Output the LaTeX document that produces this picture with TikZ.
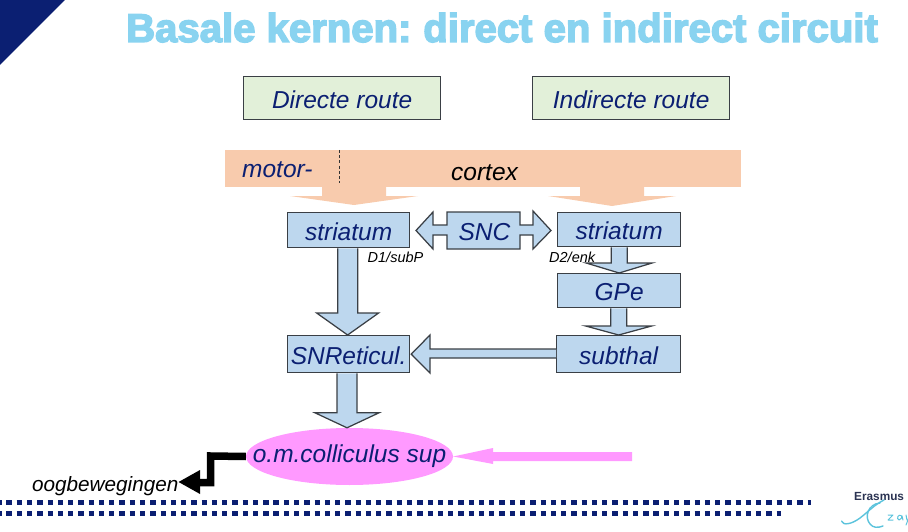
\documentclass[tikz,border=0pt]{standalone}
\usepackage{fontspec}
\setmainfont{Liberation Sans}
\newfontfamily\titlefont[FakeBold=3.6]{Liberation Sans Bold}
\usetikzlibrary{calc,shapes.geometric}
\definecolor{navy}{HTML}{0B1F72}
\definecolor{sky}{HTML}{89D3F0}
\definecolor{peach}{HTML}{F8CBAD}
\definecolor{boxblue}{HTML}{BDD7EE}
\definecolor{boxgreen}{HTML}{E2F0D9}
\definecolor{pinkfill}{HTML}{FF99FF}
\definecolor{edge}{HTML}{3A3F45}
\definecolor{logoink}{HTML}{2B3352}
\definecolor{logoswoosh}{HTML}{5CC3DC}
\tikzset{
  labelbox/.style={draw=edge,line width=1.25pt,fill=#1,text=navy,font=\itshape\fontsize{24.5}{24.5}\selectfont,inner sep=0pt,anchor=north west,text height=20pt,text depth=0pt},
  routebox/.style={labelbox=boxgreen},
  areabox/.style={labelbox=boxblue},
  blockarrow/.style={draw=edge,line width=1.25pt,fill=boxblue,line join=miter},
  peacharrow/.style={fill=peach},
  smalltext/.style={font=\itshape\fontsize{14.5}{14.5}\selectfont,text=black,inner sep=0pt},
  dotrow/.style={navy,line width=5pt,dash pattern=on 5.3pt off 4.97pt},
  swoosh/.style={logoswoosh,line width=1.4pt,line cap=round,line join=round},
}
% down arrow: #1 style, #2 start, #3 tip, #4 shaft half width, #5 head half width, #6 head length (all in px)
\newcommand{\downblock}[6]{%
  \path[#1] let \p1=(#2), \p2=(#3) in
    (\x2-#4,\y1) -- (\x2-#4,\y2+#6) -- (\x2-#5,\y2+#6) -- (\x2,\y2) --
    (\x2+#5,\y2+#6) -- (\x2+#4,\y2+#6) -- (\x2+#4,\y1);}
\begin{document}
\begin{tikzpicture}[x=1pt,y=-1pt]
\useasboundingbox (0,0) rectangle (908,532);
\clip (0,0) rectangle (908,532);
\fill[navy] (0,0) -- (65,0) -- (0,65) -- cycle;
\node[anchor=base west,inner sep=0pt,text=sky] (title) at (126,42)
  {\titlefont\fontsize{40.1}{40.1}\selectfont Basale kernen:\kern-3pt{} direct en indirect circuit};
% route boxes
\node[routebox,minimum width=197pt,minimum height=43pt] (dir) at (243,76) {Directe route};
\node[routebox,minimum width=197pt,minimum height=43pt] (ind) at (532,76) {Indirecte route};
% cortex
\node[fill=peach,minimum width=516pt,minimum height=37pt,inner sep=0pt,anchor=north west] (cortex) at (225,150) {};
\coordinate (cortexL) at (354,186);
\coordinate (cortexR) at (612,186);
\coordinate (tipL) at (354,205);
\coordinate (tipR) at (612,206);
\downblock{peacharrow}{cortexL}{tipL}{32}{64}{9}
\downblock{peacharrow}{cortexR}{tipR}{32}{64}{10}
\node[anchor=base west,inner sep=0pt,text=navy,font=\itshape\fontsize{24.5}{24.5}\selectfont] (motor) at (242,178) {motor-};
\node[anchor=base west,inner sep=0pt,text=black,font=\itshape\fontsize{24.5}{24.5}\selectfont] (cort) at (451,180) {cortex};
\coordinate (dashtop) at (339.5,150);
\coordinate (dashbot) at (339.5,183);
\draw[black!80,line width=1pt,dash pattern=on 3pt off 2.2pt] (dashtop) -- (dashbot);
% areas
\node[areabox,minimum width=122pt,minimum height=35pt] (strL) at (287,212) {striatum};
\node[areabox,minimum width=123pt,minimum height=34pt] (strR) at (557,212) {striatum};
\node[areabox,minimum width=123pt,minimum height=34pt] (gpe) at (557,273) {GPe};
\node[areabox,minimum width=124pt,minimum height=37pt] (sub) at (556,335) {subthal};
\node[areabox,minimum width=122pt,minimum height=37pt] (snr) at (287,335) {SNReticul.};
\node[ellipse,fill=pinkfill,minimum width=207pt,minimum height=57pt,inner sep=0pt,text=navy,font=\itshape\fontsize{24.5}{24.5}\selectfont] (oc) at (349.5,456.5) {\makebox[0pt][c]{o.m.colliculus sup}};
% SNC double arrow
\path[blockarrow] (416,230.5) -- (433,212) -- (433,225) -- (447,225) -- (447,212) -- (520,212)
  -- (520,225) -- (533,225) -- (533,211) -- (551,230.5) -- (533,249) -- (533,235) -- (520,235)
  -- (520,249) -- (447,249) -- (447,235) -- (433,235) -- (433,249) -- cycle;
\node[text=navy,font=\itshape\fontsize{24.5}{24.5}\selectfont,inner sep=0pt] (snc) at (484.5,232) {SNC};
% vertical arrows
\downblock{blockarrow}{strL.south}{$(snr.north)+(-1,0)$}{10}{31}{22}
\downblock{blockarrow}{strR.south}{gpe.north}{8}{33}{10}
\downblock{blockarrow}{gpe.south}{sub.north}{8}{33}{9}
\downblock{blockarrow}{snr.south}{$(oc.north)+(-2.5,0)$}{10}{32}{15}
% horizontal arrow
\path[blockarrow] let \p1=(sub.west), \p2=(snr.east) in
  (\x1,349) -- (430,349) -- (430,335) -- (\x2+1,\y1) -- (430,373) -- (430,358) -- (\x1,358);
% pink arrow
\coordinate (pinkstart) at (632,456.5);
\fill[pinkfill] (pinkstart)+(0,-4.5) -- (493,452) -- (493,448) -- (oc.east) -- (493,464) -- (493,461) -- (632,461) -- cycle;
% black output
\node[anchor=base west,inner sep=0pt,text=black,font=\itshape\fontsize{20.7}{20.7}\selectfont] (oog) at (32,491) {oogbewegingen};
\draw[black,line width=7.5pt,line join=miter] (oc.west) -- (210.5,456) -- (210.5,482.5) -- (198,482.5);
\fill[black] (oog.east |- 0,482) -- (200,470) -- (200,494) -- cycle;
% receptor labels
\node[smalltext,anchor=base west] (d1) at (367.5,262) {D1/subP};
\node[smalltext,anchor=base west] (d2) at (549,262) {D2/enk};
% dots
\draw[dotrow] (-3.8,502.8) -- (811,502.8);
\draw[dotrow] (-3.8,513.8) -- (781,513.8);
% logo
\node[anchor=base west,inner sep=0pt,text=logoink,font=\bfseries\fontsize{11.8}{11.8}\selectfont] (logo) at (854,500) {Erasmus M};
\draw[swoosh] (841.5,521) .. controls (843,526) and (852,524) .. (860,518) .. controls (868,512) and (874,505) .. (884,500);
\draw[swoosh] (880,503) .. controls (868,504) and (864,517) .. (870,524) .. controls (873,528) and (878,528) .. (883,526);
\draw[swoosh,line width=1pt] (888,515) -- (893,515) -- (888,520) -- (893,520);
\draw[swoosh,line width=1pt] (902,516) .. controls (898,513) and (896,519) .. (899,520) .. controls (901,520) and (902,517) .. (902,516) -- (903,520);
\draw[swoosh,line width=1pt] (906,515) -- (907,520) (910,515) -- (906,525);
\end{tikzpicture}
\end{document}
